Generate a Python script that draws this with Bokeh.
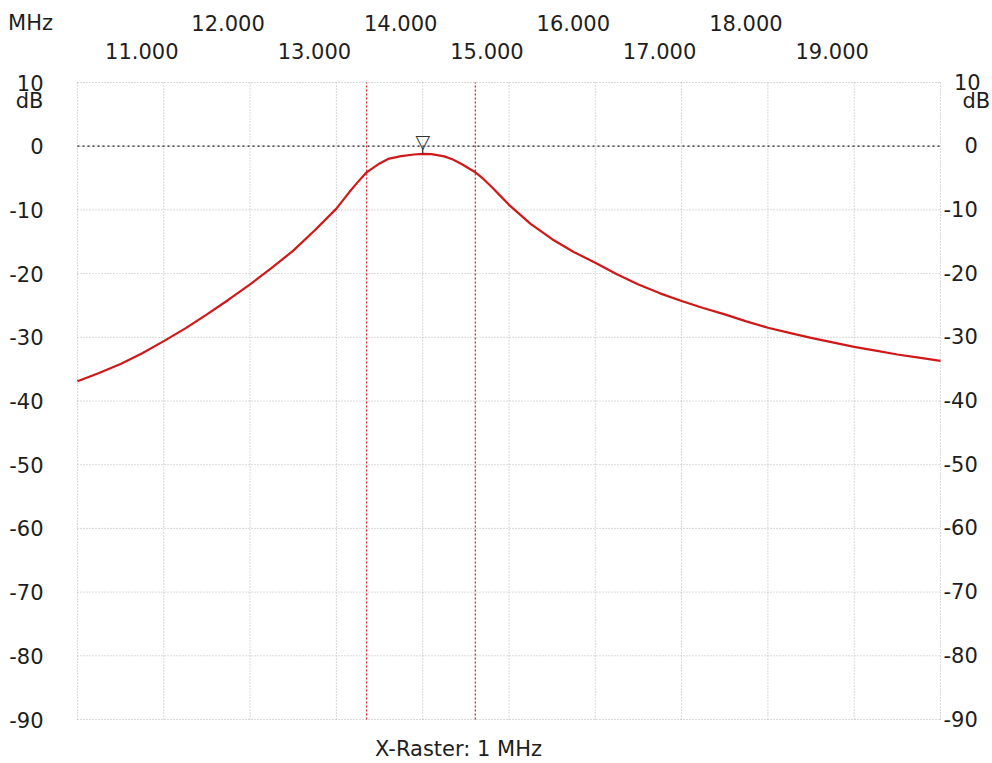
import numpy as np
from bokeh.plotting import figure
from bokeh.models import (Range1d, LinearAxis, FixedTicker, Label,
                          PrintfTickFormatter, ColumnDataSource)
from bokeh.embed import file_html
from bokeh.resources import INLINE
from bokeh.core.properties import value

# ---- data ----
freq_mhz = [10.0, 10.25, 10.5, 10.75, 11.0, 11.25, 11.5, 11.75, 12.0, 12.25,
            12.5, 12.75, 13.0, 13.15, 13.25, 13.35, 13.5, 13.6, 13.75, 13.9,
            14.0, 14.1, 14.25, 14.35, 14.45, 14.6, 14.7, 14.8, 14.9, 15.0,
            15.25, 15.5, 15.75, 16.0, 16.25, 16.5, 16.75, 17.0, 17.25, 17.5,
            17.75, 18.0, 18.25, 18.5, 18.75, 19.0, 19.25, 19.5, 19.75, 20.0]
gain_db = [-36.9, -35.6, -34.2, -32.5, -30.6, -28.6, -26.4, -24.1, -21.7, -19.1,
           -16.4, -13.2, -9.8, -7.2, -5.6, -4.1, -2.7, -2.0, -1.55, -1.3,
           -1.2, -1.25, -1.6, -2.1, -2.8, -4.0, -5.1, -6.4, -7.8, -9.2,
           -12.2, -14.6, -16.6, -18.3, -20.1, -21.7, -23.1, -24.3, -25.4, -26.4,
           -27.5, -28.5, -29.3, -30.1, -30.8, -31.5, -32.1, -32.7, -33.2, -33.7]
cursor_freqs = [13.35, 14.61]
x_ticks_upper = [12, 14, 16, 18]
x_ticks_lower = [11, 13, 15, 17, 19]
x_grid = [10, 11, 12, 13, 14, 15, 16, 17, 18, 19, 20]
y_ticks = [-90, -80, -70, -60, -50, -40, -30, -20, -10, 0, 10]
x_unit = "MHz"
y_unit = "dB"
raster_text = "X-Raster: 1 MHz"

# ---- layout (pixels) ----
W, H = 992, 763
BOX_L, BOX_R, BOX_T, BOX_B = 77, 940, 82, 719
FONT = "DejaVu Sans"
FS = "21px"
TXT = "#1e1e1e"
GRID = "#b4b4b4"
RED = "#d01818"

x_lo, x_hi = x_grid[0], x_grid[-1]
y_lo, y_hi = y_ticks[0], y_ticks[-1]
pxx = (BOX_R - BOX_L) / (x_hi - x_lo)
pxy = (BOX_B - BOX_T) / (y_hi - y_lo)
xr = Range1d(x_lo - BOX_L / pxx, x_hi + (W - BOX_R) / pxx)
yr = Range1d(y_lo - (H - BOX_B) / pxy, y_hi + BOX_T / pxy)

p = figure(width=W, height=H, output_backend="svg", toolbar_location=None,
           x_range=xr, y_range=yr, x_axis_location=None, y_axis_location=None,
           min_border=0)
p.background_fill_color = "white"
p.border_fill_color = "white"
p.outline_line_color = None
p.xgrid.visible = False
p.ygrid.visible = False

# dotted raster, limited to the measurement box
p.segment(x0=x_grid, y0=[y_lo] * len(x_grid), x1=x_grid, y1=[y_hi] * len(x_grid),
          line_color=GRID, line_dash="1 2", line_width=1)
p.segment(x0=[x_lo] * len(y_ticks), y0=y_ticks, x1=[x_hi] * len(y_ticks), y1=y_ticks,
          line_color=GRID, line_dash="1 2", line_width=1)

# 0 dB reference line and cursor lines
p.segment(x0=[x_lo], y0=[0], x1=[x_hi], y1=[0], line_color="#202020",
          line_dash="2 3", line_width=1.3)
p.segment(x0=cursor_freqs, y0=[y_lo] * len(cursor_freqs), x1=cursor_freqs,
          y1=[y_hi] * len(cursor_freqs), line_color="#d03030", line_dash="2 2",
          line_width=1.3)

# curve
src = ColumnDataSource(dict(f=freq_mhz, g=gain_db))
p.line("f", "g", source=src, line_color=RED, line_width=2.2)

# peak marker (triangle with a short stem down to the curve)
i_pk = int(np.argmax(gain_db))
f_pk, g_pk = freq_mhz[i_pk], gain_db[i_pk]
stem_db = 6.0 / pxy
p.segment(x0=[f_pk], y0=[g_pk], x1=[f_pk], y1=[g_pk + stem_db],
          line_color="#333333", line_width=1.2)
p.text(x=[f_pk], y=[g_pk], text=["\u25bd"],
       text_align="center", text_baseline="bottom", text_font=value(FONT),
       text_font_size="19px", text_color="#333333", y_offset=-2)

# ---- axes (fixed on the box edges) ----
def style_axis(ax, standoff):
    ax.axis_line_color = None
    ax.major_tick_line_color = None
    ax.minor_tick_line_color = None
    ax.major_tick_in = 0
    ax.major_tick_out = 0
    ax.minor_tick_in = 0
    ax.minor_tick_out = 0
    ax.major_label_standoff = standoff
    ax.major_label_text_font = FONT
    ax.major_label_text_font_size = FS
    ax.major_label_text_color = TXT

shift = 22.0 / pxx   # analyzer labels sit left of their raster line
p.extra_x_ranges = {"lab": Range1d(xr.start + shift, xr.end + shift)}

ax_low = LinearAxis(x_range_name="lab", fixed_location=y_hi,
                    ticker=FixedTicker(ticks=x_ticks_lower),
                    formatter=PrintfTickFormatter(format="%.3f"))
style_axis(ax_low, 24)
p.add_layout(ax_low, "above")
ax_up = LinearAxis(x_range_name="lab", fixed_location=y_hi,
                   ticker=FixedTicker(ticks=x_ticks_upper),
                   formatter=PrintfTickFormatter(format="%.3f"))
style_axis(ax_up, 52)
p.add_layout(ax_up, "above")

ax_l = LinearAxis(fixed_location=x_lo, ticker=FixedTicker(ticks=y_ticks),
                  formatter=PrintfTickFormatter(format="%d"))
style_axis(ax_l, 34)
p.add_layout(ax_l, "left")
ax_r = LinearAxis(fixed_location=x_hi, ticker=FixedTicker(ticks=y_ticks),
                  formatter=PrintfTickFormatter(format="%d"),
                  major_label_overrides={10: "\u200210", 0: "\u2002\u20020"})
style_axis(ax_r, 3)
p.add_layout(ax_r, "right")

# unit labels
lab_kw = dict(text_font=FONT, text_font_size=FS, text_color=TXT,
              text_baseline="middle")
p.add_layout(Label(x=x_lo, y=y_hi, x_offset=-47, y_offset=60, text=x_unit,
                   text_align="center", **lab_kw))
p.add_layout(Label(x=x_lo, y=y_hi, x_offset=-34, y_offset=-18, text=y_unit,
                   text_align="right", **lab_kw))
p.add_layout(Label(x=x_hi, y=y_hi, x_offset=22, y_offset=-18, text=y_unit,
                   text_align="left", **lab_kw))
p.add_layout(Label(x=x_lo, y=y_lo, x_offset=381, y_offset=-29, text=raster_text,
                   text_align="center", **lab_kw))

open("out.html", "w").write(file_html(p, INLINE))
